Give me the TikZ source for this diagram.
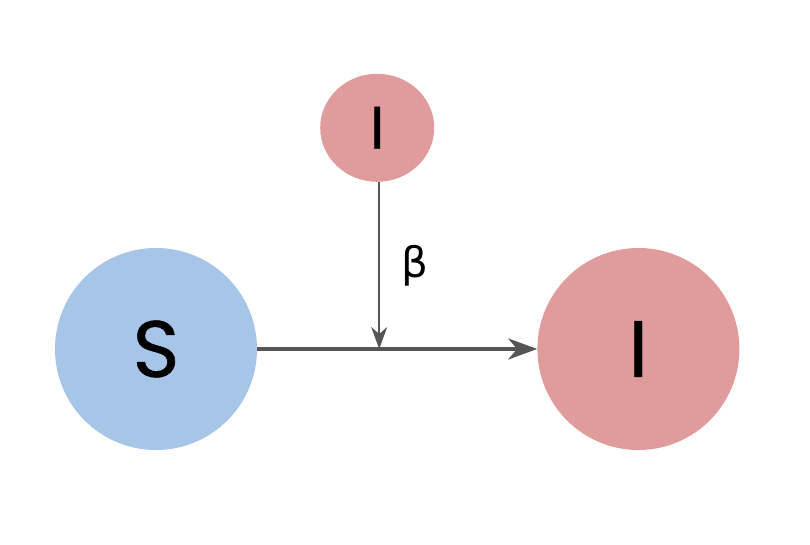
\documentclass[tikz,border=0pt]{standalone}
\usepackage{fontspec}
\setmainfont{Poppins}[FakeBold=0.6]
\newfontfamily\greekfont{DejaVu Sans}
\usetikzlibrary{positioning, arrows.meta, shapes.geometric}

\definecolor{suscol}{HTML}{A7C5E6}
\definecolor{infcol}{HTML}{E09C9C}
\definecolor{linecol}{HTML}{555555}

\begin{document}
\begin{tikzpicture}[
    x=1pt, y=1pt,
    node distance=280pt,
    state/.style={circle, fill=#1, draw=none, minimum size=202pt, inner sep=0pt, font=\fontsize{80}{80}\selectfont},
    catalyst/.style={ellipse, fill=infcol, draw=none, minimum width=114pt, minimum height=108pt, inner sep=0pt, font=\fontsize{60}{60}\selectfont},
    flow/.style={-{Stealth[length=29pt, width=21pt, inset=9pt]}, line width=4pt, draw=linecol},
    infect/.style={-{Stealth[length=22pt, width=16pt, inset=7pt]}, line width=1.8pt, draw=linecol}
]
\useasboundingbox (0,0) rectangle (810,544);

% Compartments
\node[state=suscol] (sus) at (156,195) {S};
\node[state=infcol, right=of sus] (inf) {I};

% Transition S -> I
\draw[flow] (sus.east) -- (inf.west);

% Contact with infected
\coordinate (join) at ([xshift=122pt]sus.east);
\node[catalyst, above=167pt of join, xshift=-2pt] (src) {I};
\draw[infect] (src.south -| join) -- node[right=18pt, font=\greekfont\fontsize{42}{42}\selectfont] {β} (join);

\end{tikzpicture}
\end{document}
